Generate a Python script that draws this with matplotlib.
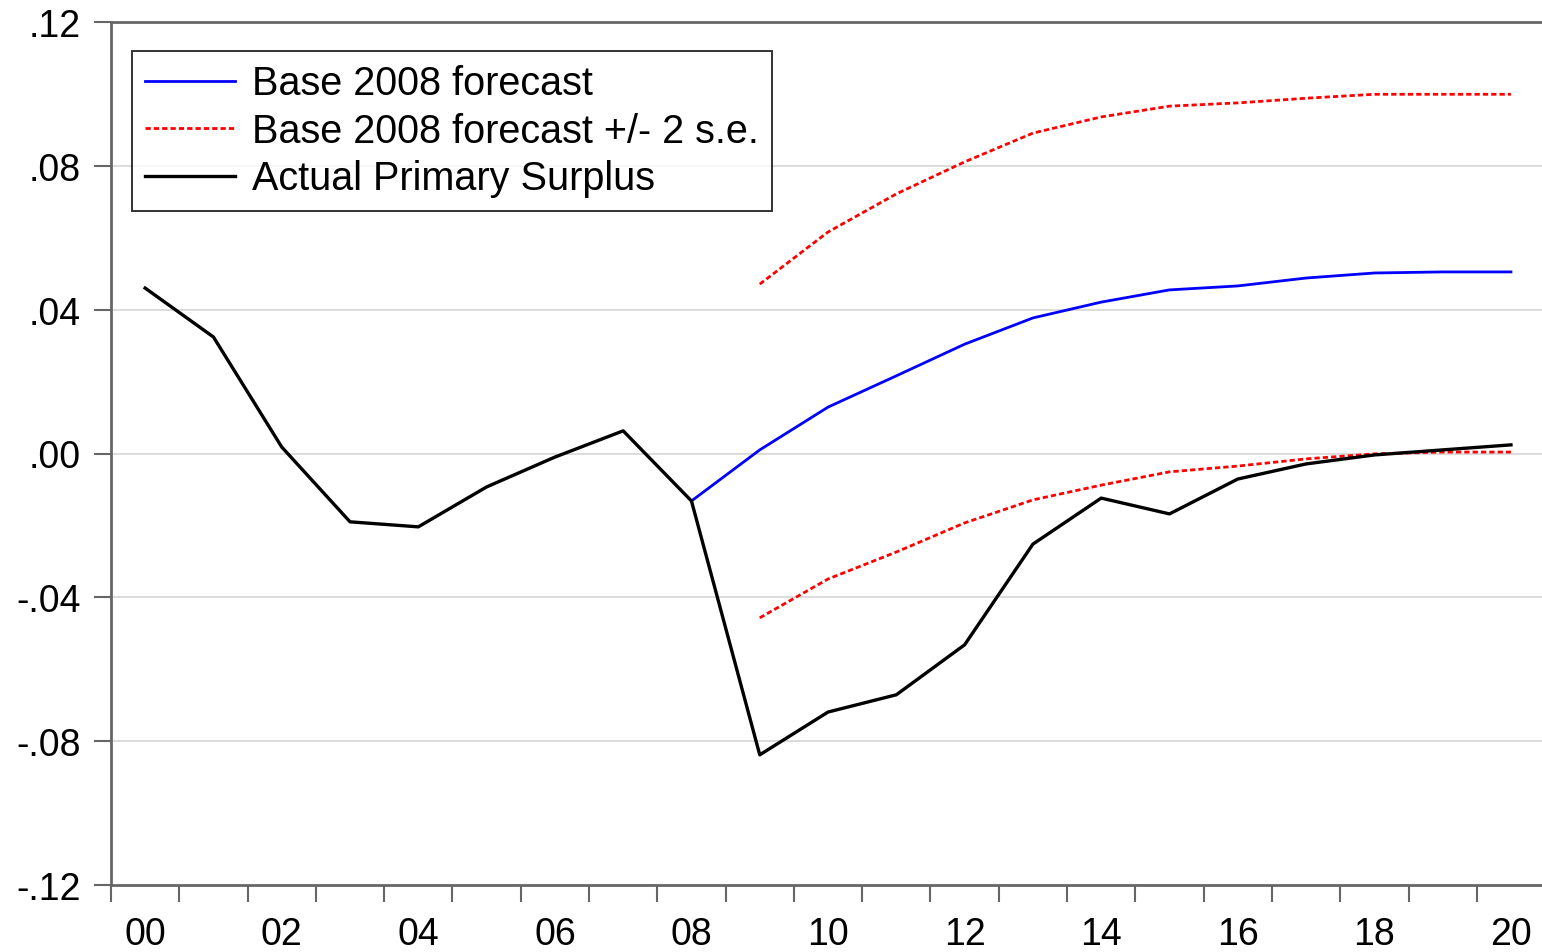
import matplotlib
matplotlib.use("Agg")
import matplotlib.pyplot as plt
import numpy as np
from matplotlib.ticker import FixedLocator, FuncFormatter

# ---- data ----
years = list(range(2000, 2021))
actual = [0.046, 0.0324, 0.0018, -0.0190, -0.0204, -0.0093, -0.0010, 0.0063, -0.0132,
          -0.0838, -0.0719, -0.0671, -0.0532, -0.0252, -0.0124, -0.0168, -0.0071,
          -0.0029, -0.0004, 0.0010, 0.0024]
fc_years = list(range(2008, 2021))
forecast = [-0.0132, 0.0010, 0.0129, 0.0216, 0.0304, 0.0377, 0.0421, 0.0455, 0.0466,
            0.0488, 0.0502, 0.0505, 0.0505]
band_years = list(range(2009, 2021))
upper = [0.0471, 0.0616, 0.0722, 0.0811, 0.0891, 0.0936, 0.0966, 0.0975, 0.0988,
         0.0999, 0.0999, 0.0999]
lower = [-0.0457, -0.0349, -0.0274, -0.0193, -0.0129, -0.0088, -0.0051, -0.0035,
         -0.0015, -0.0001, 0.0004, 0.0004]
ytick_vals = [-0.12, -0.08, -0.04, 0.0, 0.04, 0.08, 0.12]
xtick_years = list(range(2000, 2021, 2))

plt.rcParams['font.family'] = ['Liberation Sans', 'DejaVu Sans']

fig = plt.figure(figsize=(15.42, 9.53), dpi=100)
ax = fig.add_axes([111/1542, 1-886/953, 1-111/1542 + 0.002, (886-23)/953])

ax.plot(fc_years, forecast, color='#0000ff', lw=2.0, label='Base 2008 forecast', zorder=3)
ax.plot(band_years, upper, color='#ff0000', lw=2.0, ls=(0, (1.9, 1.1)),
        label='Base 2008 forecast +/- 2 s.e.', zorder=3)
ax.plot(band_years, lower, color='#ff0000', lw=2.0, ls=(0, (1.9, 1.1)), zorder=3)
ax.plot(years, actual, color='black', lw=2.4, label='Actual Primary Surplus', zorder=4)

ax.set_xlim(1999.5, 2020.5)
ax.set_ylim(-0.12, 0.12)

ax.yaxis.set_major_locator(FixedLocator(ytick_vals))
def yfmt(v, pos):
    s = f"{v:.2f}"
    s = s.replace("0.", ".", 1)
    if s == "-.00":
        s = ".00"
    return s
ax.yaxis.set_major_formatter(FuncFormatter(yfmt))

ax.xaxis.set_major_locator(FixedLocator(xtick_years))
ax.xaxis.set_major_formatter(FuncFormatter(lambda v, p: f"{int(round(v)) % 100:02d}"))
ax.xaxis.set_minor_locator(FixedLocator([y + 0.5 for y in range(1999, 2021)]))
ax.tick_params(axis='x', which='major', length=0, pad=22, labelsize=27)
ax.tick_params(axis='x', which='minor', length=12, width=1.5, color='#666666', direction='out')
ax.tick_params(axis='y', which='major', length=12, width=1.5, color='#666666',
               direction='out', labelsize=27, pad=10)

for v in ytick_vals[1:-1]:
    ax.axhline(v, color='#d9d9d9', lw=1.3, zorder=1)

for s in ['left', 'bottom', 'top']:
    ax.spines[s].set_color('#666666')
    ax.spines[s].set_linewidth(2)
ax.spines['right'].set_visible(False)

leg = ax.legend(loc='upper left', bbox_to_anchor=(132/1542, 1-52/953),
                bbox_transform=fig.transFigure, fontsize=28.5, frameon=True,
                fancybox=False, edgecolor='black', handlelength=2.25,
                handletextpad=0.43, borderpad=0.34, labelspacing=0.24,
                borderaxespad=0)
leg.get_frame().set_linewidth(1.4)

fig.savefig('out.png', dpi=100)
